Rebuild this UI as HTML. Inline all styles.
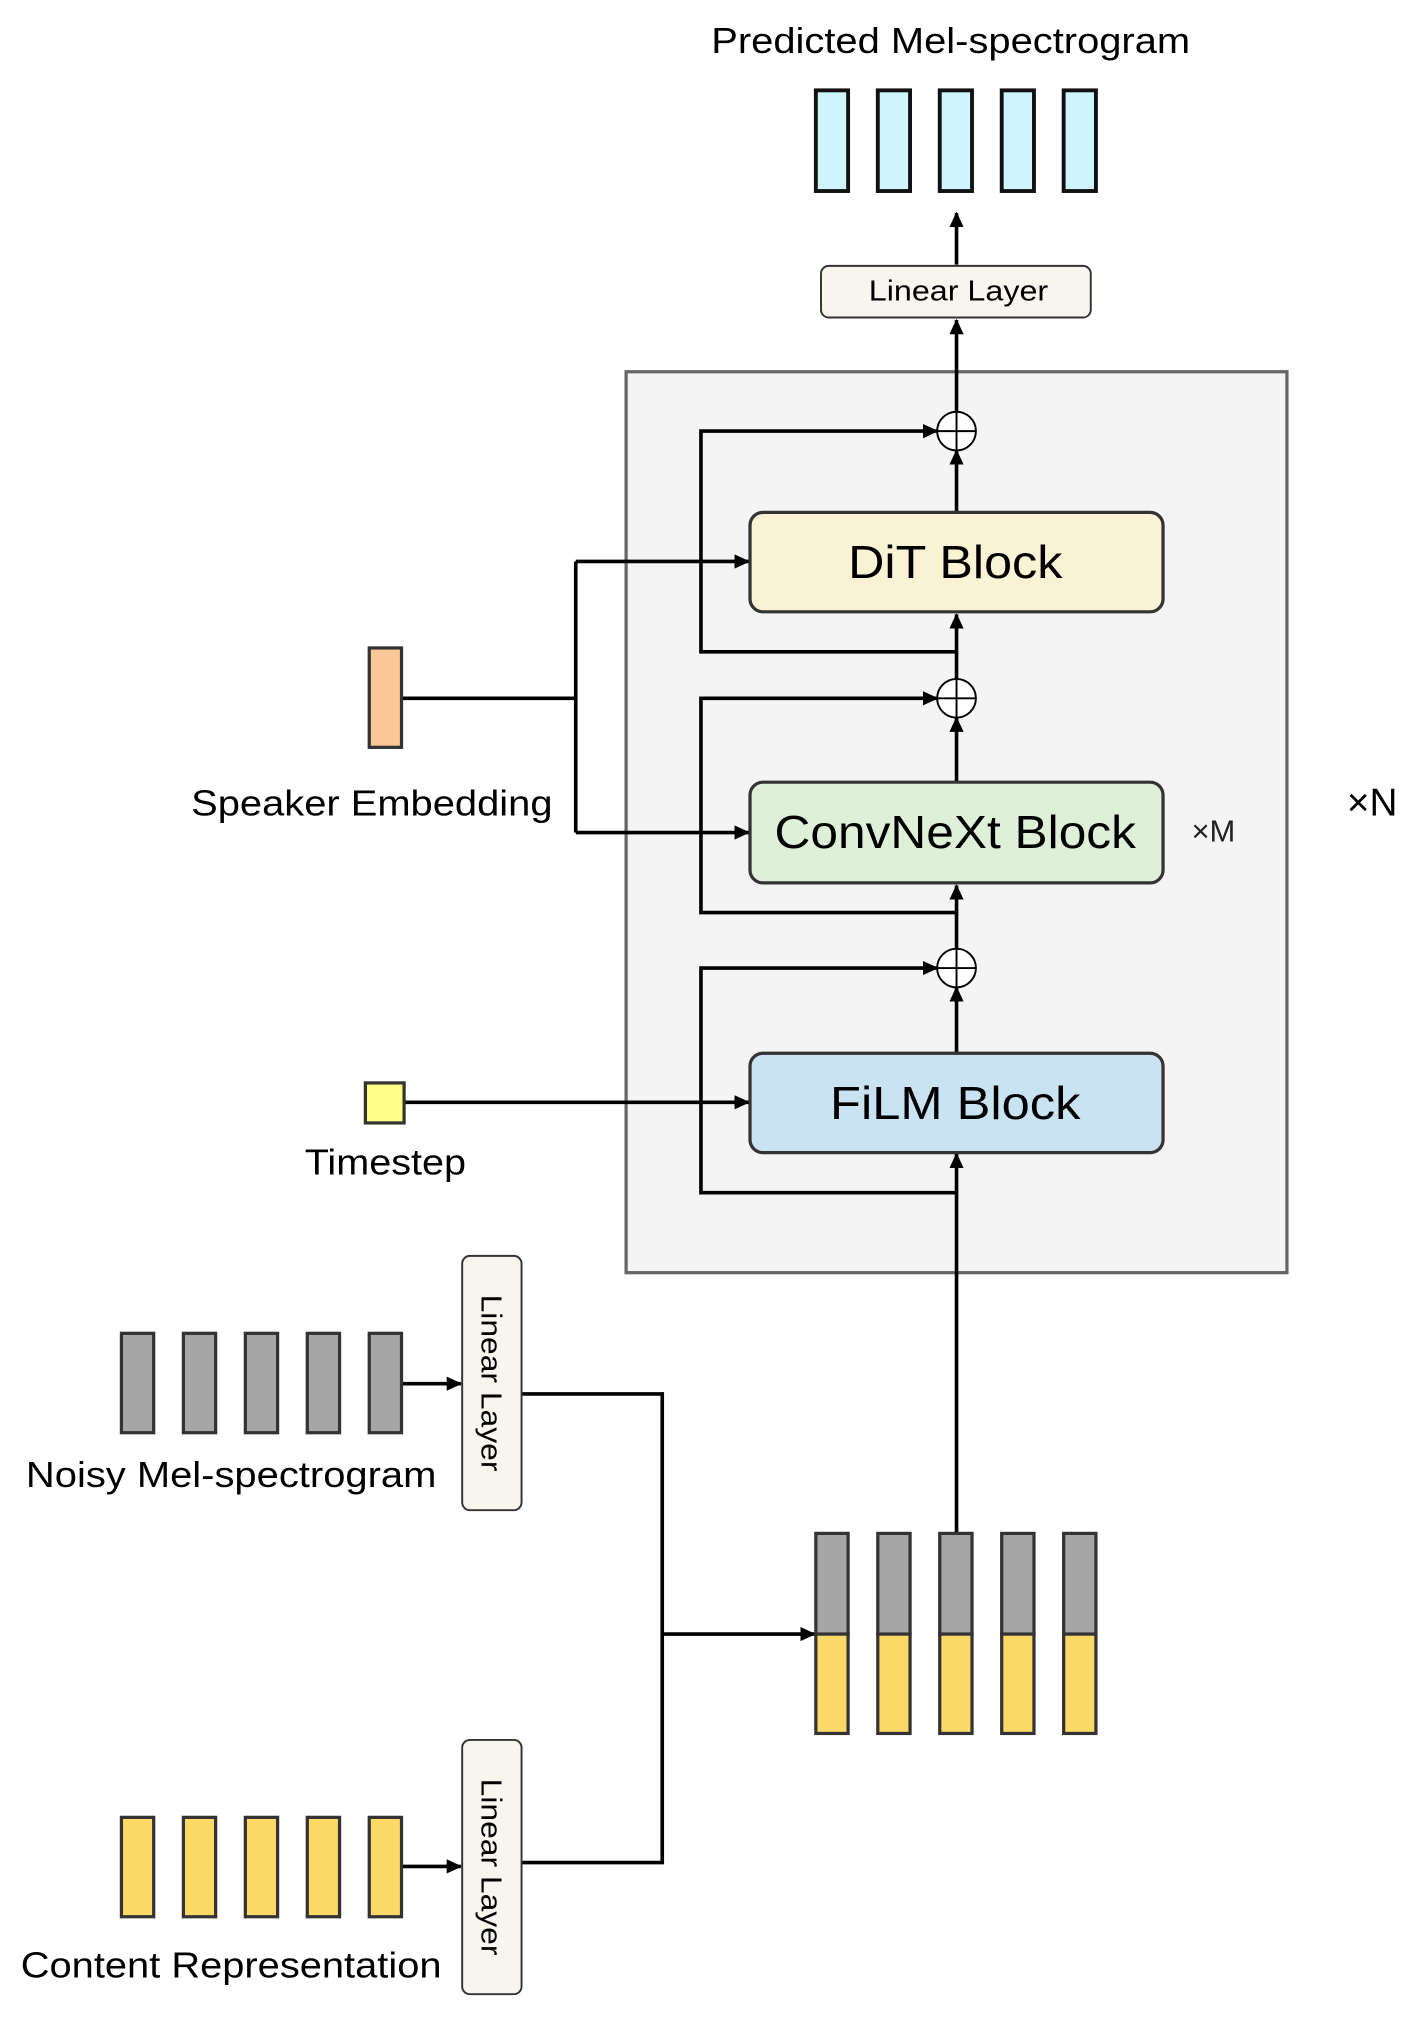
<!DOCTYPE html>
<html><head><meta charset="utf-8"><style>html,body{margin:0;padding:0;background:#fff}svg{display:block}</style></head><body>
<svg xmlns="http://www.w3.org/2000/svg" width="1420" height="2020" viewBox="0 0 1100 1565" font-family="Liberation Sans, sans-serif">
<defs><marker id="a" markerWidth="12" markerHeight="12" refX="11" refY="6" orient="auto" markerUnits="userSpaceOnUse"><path d="M0,0.5 L12,6 L0,11.5 z" fill="#000"/></marker></defs>
<rect width="1100" height="1565" fill="#fff"/>
<text x="551" y="41" font-size="28" textLength="371" lengthAdjust="spacingAndGlyphs">Predicted Mel-spectrogram</text>
<g fill="#cdf5fb" stroke="#111" stroke-width="3">
<rect x="632" y="70" width="25" height="78"/><rect x="680" y="70" width="25" height="78"/><rect x="728" y="70" width="25" height="78"/><rect x="776" y="70" width="25" height="78"/><rect x="824" y="70" width="25" height="78"/></g>
<g stroke="#000" stroke-width="2.8" fill="none">
<line x1="741" y1="205" x2="741" y2="165" marker-end="url(#a)"/>
</g>
<rect x="636" y="206" width="209" height="40" rx="6" fill="#f7f5ee" stroke="#333" stroke-width="1.5"/>
<text x="673" y="233" font-size="22" textLength="139" lengthAdjust="spacingAndGlyphs">Linear Layer</text>
<rect x="485" y="288" width="512" height="698" fill="#f4f4f4" stroke="#666" stroke-width="2.5"/>
<g stroke="#000" stroke-width="2.8" fill="none">
<line x1="741" y1="319" x2="741" y2="248" marker-end="url(#a)"/>
<line x1="741" y1="397" x2="741" y2="349" marker-end="url(#a)"/>
<line x1="741" y1="526" x2="741" y2="476" marker-end="url(#a)"/>
<line x1="741" y1="606" x2="741" y2="556" marker-end="url(#a)"/>
<line x1="741" y1="735" x2="741" y2="686" marker-end="url(#a)"/>
<line x1="741" y1="816" x2="741" y2="765" marker-end="url(#a)"/>
<line x1="741" y1="1188" x2="741" y2="894" marker-end="url(#a)"/>
<polyline points="741,924 543,924 543,750 726,750" marker-end="url(#a)"/>
<polyline points="741,707 543,707 543,541 726,541" marker-end="url(#a)"/>
<polyline points="741,505 543,505 543,334 726,334" marker-end="url(#a)"/>
<line x1="311" y1="541" x2="446" y2="541"/>
<line x1="446" y1="435" x2="446" y2="645"/>
<line x1="446" y1="435" x2="580" y2="435" marker-end="url(#a)"/>
<line x1="446" y1="645" x2="580" y2="645" marker-end="url(#a)"/>
<line x1="313" y1="854" x2="580" y2="854" marker-end="url(#a)"/>
<line x1="311" y1="1072" x2="357" y2="1072" marker-end="url(#a)"/>
<line x1="311" y1="1446" x2="357" y2="1446" marker-end="url(#a)"/>
<polyline points="404,1080 513,1080 513,1443 404,1443"/>
<line x1="513" y1="1266" x2="631" y2="1266" marker-end="url(#a)"/>
</g>
<g fill="#fff" stroke="#000" stroke-width="1.5">
<circle cx="741" cy="334" r="15"/><circle cx="741" cy="541" r="15"/><circle cx="741" cy="750" r="15"/></g>
<g stroke="#000" stroke-width="1.5">
<line x1="726" y1="334" x2="756" y2="334"/><line x1="741" y1="319" x2="741" y2="349"/>
<line x1="726" y1="541" x2="756" y2="541"/><line x1="741" y1="526" x2="741" y2="556"/>
<line x1="726" y1="750" x2="756" y2="750"/><line x1="741" y1="735" x2="741" y2="765"/></g>
<rect x="581" y="397" width="320" height="77" rx="10" fill="#faf2d4" stroke="#333" stroke-width="2.5"/>
<text x="657" y="448" font-size="36" textLength="166" lengthAdjust="spacingAndGlyphs">DiT Block</text>
<rect x="581" y="606" width="320" height="78" rx="10" fill="#dff0d8" stroke="#333" stroke-width="2.5"/>
<text x="600" y="657" font-size="36" textLength="280" lengthAdjust="spacingAndGlyphs">ConvNeXt Block</text>
<rect x="581" y="816" width="320" height="77" rx="10" fill="#c9e3f2" stroke="#333" stroke-width="2.5"/>
<text x="643" y="867" font-size="36" textLength="194" lengthAdjust="spacingAndGlyphs">FiLM Block</text>
<text x="940" y="652" font-size="24" text-anchor="middle" fill="#222">×M</text>
<text x="1063" y="632" font-size="30" text-anchor="middle">×N</text>
<rect x="286" y="502" width="25" height="77" fill="#fdc898" stroke="#333" stroke-width="2.5"/>
<text x="148" y="632" font-size="28" textLength="280" lengthAdjust="spacingAndGlyphs">Speaker Embedding</text>
<rect x="283" y="839" width="30" height="31" fill="#ffff88" stroke="#333" stroke-width="2.5"/>
<text x="236" y="910" font-size="28" textLength="125" lengthAdjust="spacingAndGlyphs">Timestep</text>
<g fill="#a6a6a6" stroke="#333" stroke-width="2.5">
<rect x="94" y="1033" width="25" height="77"/><rect x="142" y="1033" width="25" height="77"/><rect x="190" y="1033" width="25" height="77"/><rect x="238" y="1033" width="25" height="77"/><rect x="286" y="1033" width="25" height="77"/>
<rect x="632" y="1188" width="25" height="78"/><rect x="680" y="1188" width="25" height="78"/><rect x="728" y="1188" width="25" height="78"/><rect x="776" y="1188" width="25" height="78"/><rect x="824" y="1188" width="25" height="78"/></g>
<g fill="#fcd867" stroke="#333" stroke-width="2.5">
<rect x="94" y="1408" width="25" height="77"/><rect x="142" y="1408" width="25" height="77"/><rect x="190" y="1408" width="25" height="77"/><rect x="238" y="1408" width="25" height="77"/><rect x="286" y="1408" width="25" height="77"/>
<rect x="632" y="1266" width="25" height="77"/><rect x="680" y="1266" width="25" height="77"/><rect x="728" y="1266" width="25" height="77"/><rect x="776" y="1266" width="25" height="77"/><rect x="824" y="1266" width="25" height="77"/></g>
<text x="20" y="1152" font-size="28" textLength="318" lengthAdjust="spacingAndGlyphs">Noisy Mel-spectrogram</text>
<text x="16" y="1532" font-size="28" textLength="326" lengthAdjust="spacingAndGlyphs">Content Representation</text>
<rect x="358" y="973" width="46" height="197" rx="6" fill="#f7f5ee" stroke="#333" stroke-width="1.5"/>
<text transform="translate(373,1003) rotate(90)" font-size="22" textLength="137" lengthAdjust="spacingAndGlyphs">Linear Layer</text>
<rect x="358" y="1348" width="46" height="197" rx="6" fill="#f7f5ee" stroke="#333" stroke-width="1.5"/>
<text transform="translate(373,1378) rotate(90)" font-size="22" textLength="137" lengthAdjust="spacingAndGlyphs">Linear Layer</text>
</svg>
</body></html>
